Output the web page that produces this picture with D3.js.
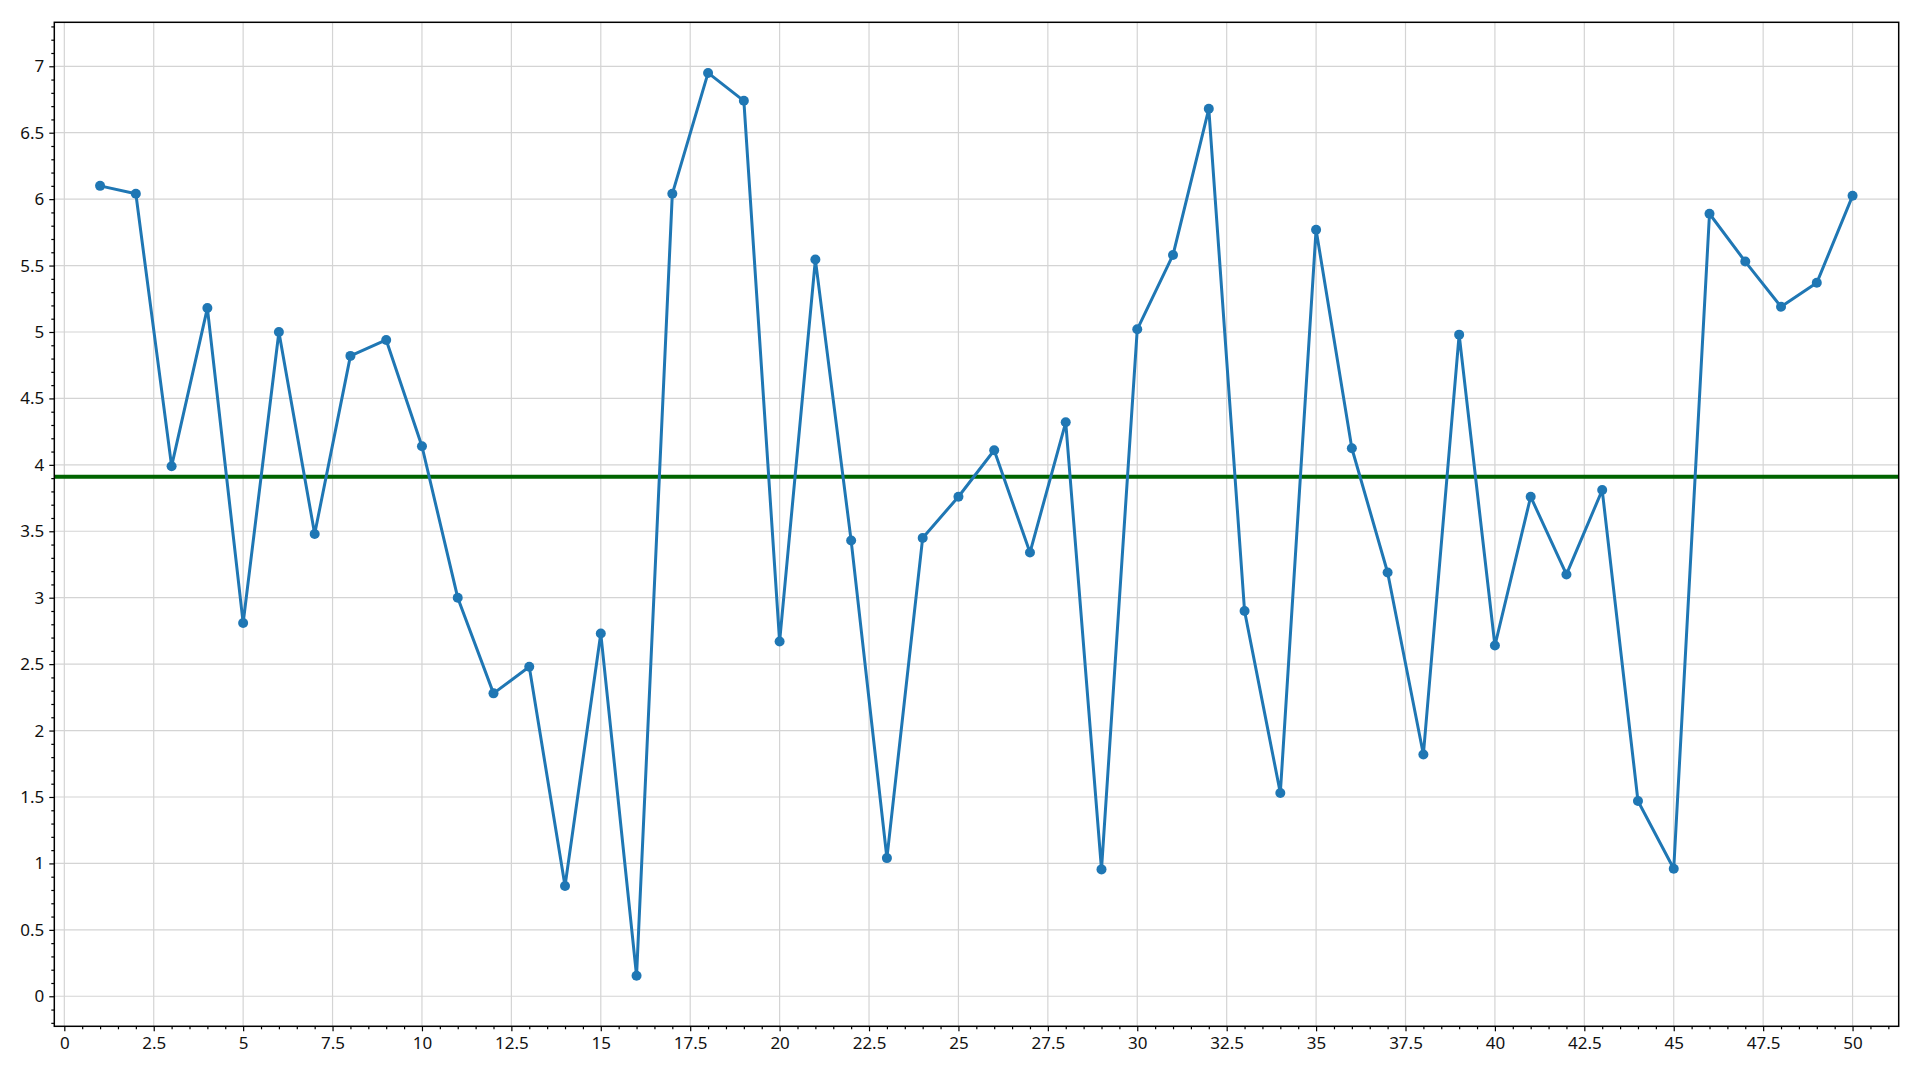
<!DOCTYPE html>
<html>
<head>
<meta charset="utf-8">
<script src="https://cdn.jsdelivr.net/npm/d3@7"></script>
<style>
  html, body { margin: 0; padding: 0; background: #fff; }
  svg { display: block; }
  text { font-family: "Noto Sans", "Open Sans", sans-serif; }
</style>
</head>
<body>
<svg id="chart" width="1920" height="1080"></svg>
<script>
// ---- data ----
const xValues = [1,2,3,4,5,6,7,8,9,10,11,12,13,14,15,16,17,18,19,20,21,22,23,24,25,
                 26,27,28,29,30,31,32,33,34,35,36,37,38,39,40,41,42,43,44,45,46,47,48,49,50];
const yValues = [6.10,6.04,3.99,5.18,2.81,5.00,3.48,4.82,4.94,4.14,3.00,2.28,2.48,0.83,2.73,0.155,
                 6.04,6.95,6.74,2.67,5.545,3.43,1.04,3.45,3.76,4.11,3.34,4.32,0.955,5.02,5.58,6.68,
                 2.90,1.53,5.77,4.125,3.19,1.82,4.98,2.64,3.76,3.175,3.81,1.47,0.96,5.89,5.53,5.19,5.37,6.025];
const meanValue = 3.91;
const xTicks = [0,2.5,5,7.5,10,12.5,15,17.5,20,22.5,25,27.5,30,32.5,35,37.5,40,42.5,45,47.5,50];
const yTicks = [0,0.5,1,1.5,2,2.5,3,3.5,4,4.5,5,5.5,6,6.5,7];
const xDomain = [-0.28, 51.29];
const yDomain = [-0.226, 7.331];

// ---- layout ----
const plotL = 54.3, plotR = 1898.7, plotT = 22.3, plotB = 1026.3;
const svg = d3.select("#chart");
const x = d3.scaleLinear().domain(xDomain).range([plotL, plotR]);
const y = d3.scaleLinear().domain(yDomain).range([plotB, plotT]);

// grid
const grid = svg.append("g");
grid.selectAll("line.v").data(xTicks).join("line").attr("class", "v")
  .attr("x1", d => x(d)).attr("x2", d => x(d))
  .attr("y1", plotT).attr("y2", plotB)
  .attr("stroke", "#d4d4d4").attr("stroke-width", 1.2);
grid.selectAll("line.h").data(yTicks).join("line").attr("class", "h")
  .attr("y1", d => y(d)).attr("y2", d => y(d))
  .attr("x1", plotL).attr("x2", plotR)
  .attr("stroke", "#d4d4d4").attr("stroke-width", 1.2);

// mean line
svg.append("line")
  .attr("x1", plotL).attr("x2", plotR)
  .attr("y1", y(meanValue)).attr("y2", y(meanValue))
  .attr("stroke", "#006400").attr("stroke-width", 4);

// series
const pts = xValues.map((v, i) => [v, yValues[i]]);
svg.append("path")
  .datum(pts)
  .attr("fill", "none")
  .attr("stroke", "#1f77b4")
  .attr("stroke-width", 3)
  .attr("stroke-linejoin", "round")
  .attr("d", d3.line().x(d => x(d[0])).y(d => y(d[1])));
svg.append("g").selectAll("circle").data(pts).join("circle")
  .attr("cx", d => x(d[0])).attr("cy", d => y(d[1]))
  .attr("r", 5).attr("fill", "#1f77b4");

// axes
const minorX = d3.range(0, 103).map(v => v / 2).filter(v => v <= xDomain[1] && !xTicks.includes(v));
const minorY = d3.range(-2, 74).map(v => v / 10).filter(v => v >= yDomain[0] && v <= yDomain[1] && !yTicks.includes(v));

const xAxis = svg.append("g").attr("transform", `translate(0,${plotB})`)
  .call(d3.axisBottom(x).tickValues(xTicks).tickFormat(d => String(d)).tickSize(5).tickPadding(6).tickSizeOuter(0));
const xMinor = svg.append("g").attr("transform", `translate(0,${plotB})`)
  .call(d3.axisBottom(x).tickValues(minorX).tickFormat("").tickSize(3).tickSizeOuter(0));
const yAxis = svg.append("g").attr("transform", `translate(${plotL},0)`)
  .call(d3.axisLeft(y).tickValues(yTicks).tickFormat(d => String(d)).tickSize(5).tickPadding(5).tickSizeOuter(0));
const yMinor = svg.append("g").attr("transform", `translate(${plotL},0)`)
  .call(d3.axisLeft(y).tickValues(minorY).tickFormat("").tickSize(3).tickSizeOuter(0));

[xAxis, xMinor, yAxis, yMinor].forEach(g => {
  g.select(".domain").remove();
  g.selectAll(".tick line").attr("stroke", "#000").attr("stroke-width", 1.2);
  g.selectAll(".tick text").attr("fill", "#111").style("font-size", "17px")
    .style("font-family", "'Noto Sans', 'Open Sans', sans-serif");
});

// frame
svg.append("rect")
  .attr("x", plotL).attr("y", plotT)
  .attr("width", plotR - plotL).attr("height", plotB - plotT)
  .attr("fill", "none").attr("stroke", "#000").attr("stroke-width", 1.5);
</script>
</body>
</html>
